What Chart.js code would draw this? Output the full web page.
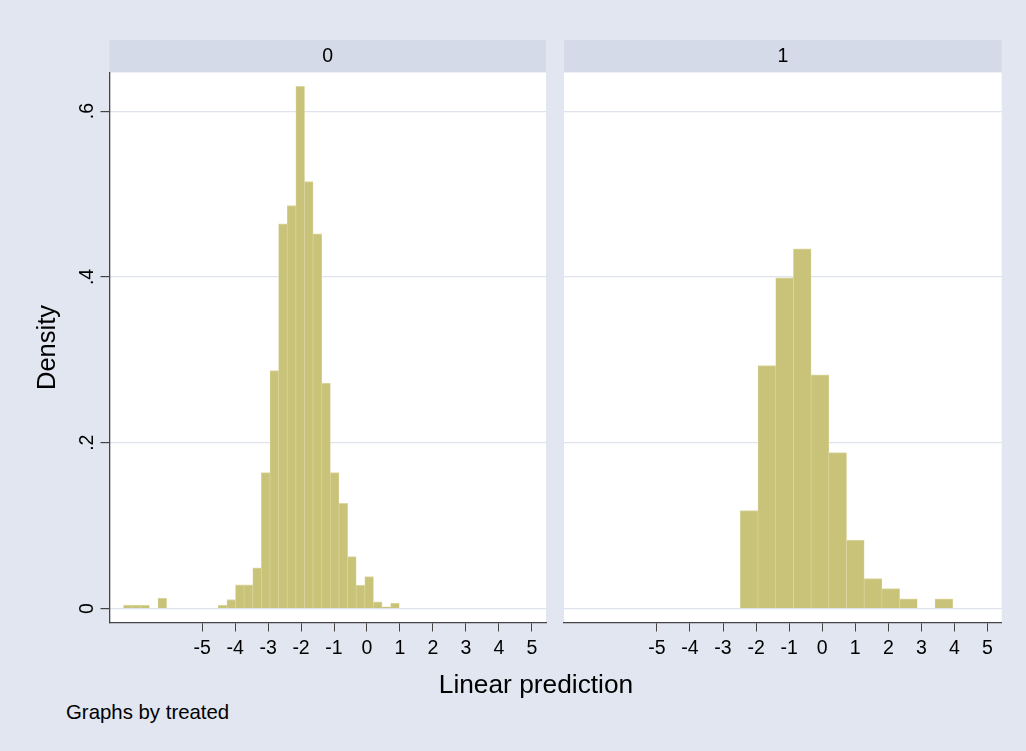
<!DOCTYPE html>
<html>
<head>
<meta charset="utf-8">
<script src="https://cdn.jsdelivr.net/npm/chart.js@4.4.1/dist/chart.umd.min.js"></script>
<style>
  html, body { margin: 0; padding: 0; }
  body { width: 1026px; height: 751px; background: rgb(225,230,240); position: relative; overflow: hidden;
         font-family: 'Liberation Sans', Arial, sans-serif; }
  canvas { position: absolute; top: 0; }
  #left { left: 0; }
  #right { left: 556px; }
  .txt { position: absolute; color: #000; white-space: nowrap; }
  #xtitle { left: 536px; top: 684px; font-size: 26.3px; transform: translate(-50%, -50%); }
  #note { left: 66px; top: 712px; font-size: 20.4px; transform: translateY(-50%); }
</style>
</head>
<body>
<canvas id="left" width="556" height="670"></canvas>
<canvas id="right" width="470" height="670"></canvas>
<div class="txt" id="xtitle">Linear prediction</div>
<div class="txt" id="note">Graphs by treated</div>
<script>
// panel labels (treated = 0 / 1)
const panels = ['0', '1'];

// bin centres and densities, treated == 0
const binsUntreated = [-7.254, -6.993, -6.732, -6.470, -6.209, -5.947, -5.686, -5.425,
  -5.163, -4.902, -4.640, -4.379, -4.117, -3.856, -3.595, -3.333, -3.072, -2.810,
  -2.549, -2.288, -2.026, -1.765, -1.503, -1.242, -0.981, -0.719, -0.458, -0.196,
  0.065, 0.326, 0.588, 0.849];
const densUntreated = [0.004, 0.004, 0.004, 0, 0.0127, 0, 0, 0,
  0, 0, 0, 0.004, 0.0108, 0.0285, 0.0285, 0.049, 0.164, 0.287,
  0.464, 0.486, 0.630, 0.515, 0.452, 0.272, 0.164, 0.127, 0.0625, 0.0283,
  0.0384, 0.0079, 0.002, 0.0066];

// bin centres and densities, treated == 1
const binsTreated = [-2.208, -1.673, -1.138, -0.602, -0.067, 0.468, 1.003, 1.539,
  2.074, 2.609, 3.145, 3.680];
const densTreated = [0.118, 0.293, 0.399, 0.434, 0.282, 0.188, 0.0826, 0.036,
  0.0239, 0.0118, 0, 0.0118];

const xTickValues = [-5, -4, -3, -2, -1, 0, 1, 2, 3, 4, 5];
const xTickLabels = ['-5', '-4', '-3', '-2', '-1', '0', '1', '2', '3', '4', '5'];
const yTickValues = [0, 0.2, 0.4, 0.6];
const yTickLabels = ['0', '.2', '.4', '.6'];

Chart.defaults.font.family = "'Liberation Sans', Arial, sans-serif";
Chart.defaults.color = '#000';

const stripColor = 'rgb(212,218,231)';
const gridColor = 'rgb(222,227,238)';
const axisColor = '#444';
const barFill = 'rgb(201,195,122)';
const barLine = 'rgb(220,216,162)';

// strip behind the panel title and white plot region
const panelBg = {
  id: 'panelBg',
  beforeDraw(chart) {
    const {ctx, chartArea: a} = chart;
    ctx.save();
    ctx.fillStyle = stripColor;
    ctx.fillRect(a.left, 40, a.right - a.left, a.top - 40);
    ctx.fillStyle = '#fff';
    ctx.fillRect(a.left, a.top, a.right - a.left, a.bottom - a.top);
    ctx.restore();
  }
};

function makePanel(canvasId, title, bins, dens, first) {
  const pts = bins.map((b, i) => ({x: b, y: dens[i]}));
  return new Chart(document.getElementById(canvasId), {
    type: 'bar',
    data: {
      datasets: [{
        data: pts,
        backgroundColor: barFill,
        borderColor: barLine,
        borderWidth: {top: 1, left: 0.6, right: 0.6, bottom: 0},
        barPercentage: 1,
        categoryPercentage: 1
      }]
    },
    plugins: [panelBg],
    options: {
      responsive: false,
      animation: false,
      layout: {padding: first ? {top: 40, left: 0, right: 10, bottom: 0}
                              : {top: 40, left: 8, right: 24.3, bottom: 0}},
      plugins: {
        legend: {display: false},
        tooltip: {enabled: false},
        title: {
          display: true, text: title, fullSize: false,
          font: {size: 19.5, weight: 'normal'}, color: '#000',
          padding: {top: 4.7, bottom: 4.4}
        }
      },
      scales: {
        x: {
          type: 'linear', min: -7.81, max: 5.43, offset: false,
          afterBuildTicks: s => { s.ticks = xTickValues.map(v => ({value: v})); },
          afterFit: s => { s.height = 47.5; },
          grid: {offset: false, drawOnChartArea: false, drawTicks: true, tickLength: 9, tickColor: axisColor},
          border: {display: true, color: axisColor, width: 1.3},
          ticks: {
            font: {size: 19.5}, padding: 5, maxRotation: 0, minRotation: 0,
            callback: v => xTickLabels[xTickValues.indexOf(v)]
          }
        },
        y: {
          min: -0.0169, max: 0.6466,
          afterBuildTicks: s => { s.ticks = yTickValues.map(v => ({value: v})); },
          afterFit: s => { s.width = first ? 109.5 : 0; },
          grid: {color: gridColor, lineWidth: 1.2, drawTicks: first, tickLength: 9, tickColor: axisColor},
          border: {display: first, color: axisColor, width: 1.3},
          ticks: {
            display: first, font: {size: 19.5}, padding: 4.4,
            minRotation: 90, maxRotation: 90, crossAlign: 'center',
            callback: v => yTickLabels[yTickValues.indexOf(v)]
          },
          title: {
            display: first, text: 'Density', font: {size: 25.5}, color: '#000',
            padding: {top: 33, bottom: 0}
          }
        }
      }
    }
  });
}

makePanel('left', panels[0], binsUntreated, densUntreated, true);
makePanel('right', panels[1], binsTreated, densTreated, false);
</script>
</body>
</html>
